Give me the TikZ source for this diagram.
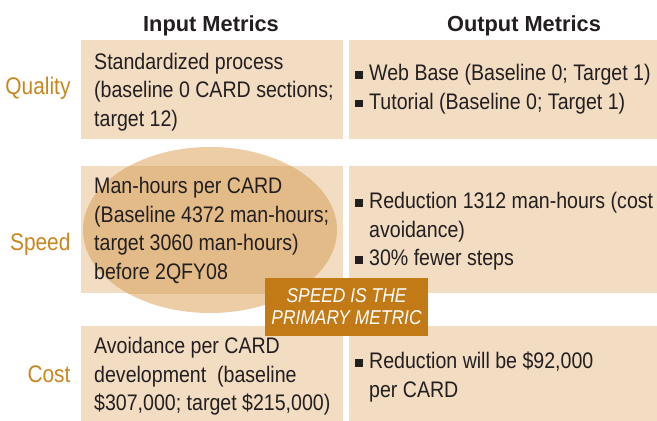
\documentclass[tikz,border=0pt]{standalone}
\usepackage{fontspec}
\usepackage{xcolor}
\usepackage{tikz}
\setmainfont{Liberation Sans}
\newfontfamily\narrowfont[FakeStretch=0.87]{Liberation Sans}
\definecolor{cellfill}{HTML}{F2DCC2}
\definecolor{ovalout}{HTML}{ECCDA6}
\definecolor{ovalin}{HTML}{E2BB88}
\definecolor{rowlabel}{HTML}{C8861F}
\definecolor{tagfill}{HTML}{C27A17}
\definecolor{ink}{HTML}{231F20}
\newcommand{\bulletsq}{\makebox[14pt][l]{\rule[2pt]{7.5pt}{7.5pt}}}
\newcommand{\hangsp}{\hspace*{14pt}}

\begin{document}
\begin{tikzpicture}[x=1pt,y=-1pt,
  cell/.style={fill=cellfill, draw=none, anchor=north west, inner sep=0pt},
  txt/.style={anchor=north west, inner sep=0pt, align=left, text=ink,
    font={\narrowfont\fontsize{22.5pt}{28.7pt}\selectfont},
    execute at begin node={\rule{0pt}{18pt}}},
  head/.style={anchor=base, text=ink, font={\bfseries\fontsize{21.8pt}{26pt}\selectfont}},
  rowname/.style={anchor=base east, text=rowlabel, font={\narrowfont\fontsize{24pt}{28pt}\selectfont}}]
\useasboundingbox (0,0) rectangle (657,421);
% oval behind the speed row
\fill[ovalout] (210,230) ellipse [x radius=127pt, y radius=83pt];
% cells
\node[cell, minimum width=262pt, minimum height=99pt] (QI) at (81,40) {};
\node[cell, minimum width=308pt, minimum height=99pt] (QO) at (349,40) {};
\node[cell, minimum width=262pt, minimum height=127pt] (SI) at (81,166) {};
\node[cell, minimum width=308pt, minimum height=127pt] (SO) at (349,166) {};
\node[cell, minimum width=262pt, minimum height=95pt] (CI) at (81,326) {};
\node[cell, minimum width=308pt, minimum height=95pt] (CO) at (349,326) {};
\begin{scope}
\clip (SI.north west) rectangle (SI.south east);
\fill[ovalin] (210,230) ellipse [x radius=127pt, y radius=83pt];
\end{scope}
% headings
\node[head] (HI) at (211,31) {Input Metrics};
\node[head] (HO) at (524,31) {Output Metrics};
\node[rowname] (RQ) at (74,94) {Quality};
\node[rowname] (RS) at (74,250) {Speed};
\node[rowname] (RC) at (74,382) {Cost};
% texts
\node[txt] (QIt) at (94,52.7) {Standardized process\\(baseline 0 CARD sections;\\target 12)};
\node[txt] (QOt) at (355,64) {\bulletsq Web Base (Baseline 0; Target 1)\\\bulletsq Tutorial (Baseline 0; Target 1)};
\node[txt] (SIt) at (94,177) {Man-hours per CARD\\(Baseline 4372 man-hours;\\target 3060 man-hours)\\before 2QFY08};
\node[txt] (SOt) at (355,192) {\bulletsq Reduction 1312 man-hours (cost\\\hangsp avoidance)\\\bulletsq 30\% fewer steps};
\node[txt] (CIt) at (94,337) {Avoidance per CARD\\development\ \ (baseline\\\$307,000; target \$215,000)};
\node[txt] (COt) at (355,352) {\bulletsq Reduction will be \$92,000\\\hangsp per CARD};
% tag
\node[fill=tagfill, text=white, align=center, inner sep=0pt, minimum width=163pt, minimum height=58pt,
  font={\narrowfont\itshape\fontsize{20pt}{22pt}\selectfont}] (TAG) at (346.5,306.5) {SPEED IS THE\\PRIMARY METRIC};
\end{tikzpicture}
\end{document}
